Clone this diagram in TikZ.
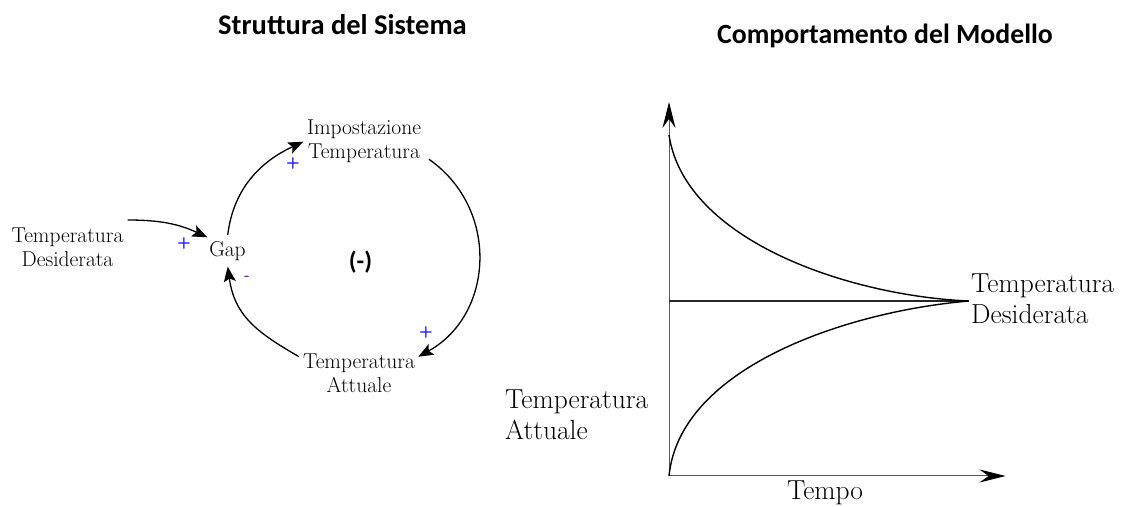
\documentclass[tikz,border=0pt]{standalone}
\usepackage{fontspec}
\newfontfamily\titlefont{Carlito}
\usetikzlibrary{arrows.meta}
\tikzset{
  title/.style={font=\titlefont\bfseries\fontsize{28.5}{32}\selectfont, inner sep=0pt},
  cld/.style={font=\fontsize{21.5}{24}\selectfont, align=center, inner sep=1pt},
  glbl/.style={font=\fontsize{27.5}{31}\selectfont, align=left, inner sep=0pt},
  pol/.style={text={rgb,255:red,30;green,20;blue,255}, font=\sffamily\bfseries\fontsize{16}{16}\selectfont, inner sep=0pt},
  link/.style={-{Stealth[length=15pt,width=12pt,inset=3pt]}, line width=1.3pt},
  axisline/.style={line width=1pt, draw=black!65, -{Stealth[length=26pt,width=13pt,inset=9pt,color=black]}},
  curve/.style={line width=1.4pt, draw=black},
  target/.style={line width=2.6pt, draw=black!85}
}
\begin{document}
\begin{tikzpicture}[x=1pt,y=1pt]
\useasboundingbox (0,0) rectangle (1127,506);
% titles
\node[title] (t1) at (342.5,481) {Struttura del Sistema};
\node[title, font=\titlefont\bfseries\fontsize{27.8}{32}\selectfont] (t2) at (885,470) {Comportamento del Modello};
% causal loop
\node[cld] (des) at (67.5,258.5) {Temperatura\\Desiderata};
\node[cld] (gap) at (227.5,255) {Gap};
\node[cld] (imp) at (364,364.5) {Impostazione\\Temperatura};
\node[cld] (att) at (359,132.5) {Temperatura\\Attuale};
\node[font=\titlefont\bfseries\fontsize{25}{25}\selectfont, inner sep=0pt] (loop) at (360.5,244) {(-)};
\draw[link] ([shift={(60.2,27.5)}]des.center) to[out=0,in=155] ([shift={(-20.2,13.7)}]gap.center);
\draw[link] ([shift={(0.2,16)}]gap.center) to[out=83,in=205] ([shift={(-60.7,-0.2)}]imp.center);
\draw[link] ([shift={(65,-17.8)}]imp.center) to[out=-35,in=29,looseness=1.12] ([shift={(59.3,16.8)}]att.center);
\draw[link] ([shift={(-60,16.8)}]att.center) to[out=150,in=278,looseness=1.1] ([shift={(0.2,-15.7)}]gap.center);
\node[pol] (p1) at (184,262) {+};
\node[pol] (p2) at (293,342) {+};
\node[pol] (m1) at (247,228) {-};
\node[pol] (p3) at (426,173) {+};
% behaviour graph
\coordinate (O) at (669,30);
\coordinate (ytop) at (669,404);
\coordinate (xend) at (1005.5,30);
\coordinate (hl) at (669,205);
\coordinate (conv) at (969,205);
\coordinate (ustart) at (669,371);
\draw[axisline] (O) -- (ytop);
\draw[axisline] (O) -- (xend);
\draw[target] (hl) -- (conv);
\draw[curve] (ustart) .. controls (685,265) and (850,210) .. (conv);
\draw[curve] (O) .. controls (680,140) and (850,195) .. (conv);
\node[glbl, anchor=west] (dlab) at (971,207.5) {Temperatura\\Desiderata};
\node[glbl, anchor=west] (alab) at (505,91.5) {Temperatura\\Attuale};
\node[glbl, anchor=base] (tempo) at (825,6.5) {Tempo};
\end{tikzpicture}
\end{document}
